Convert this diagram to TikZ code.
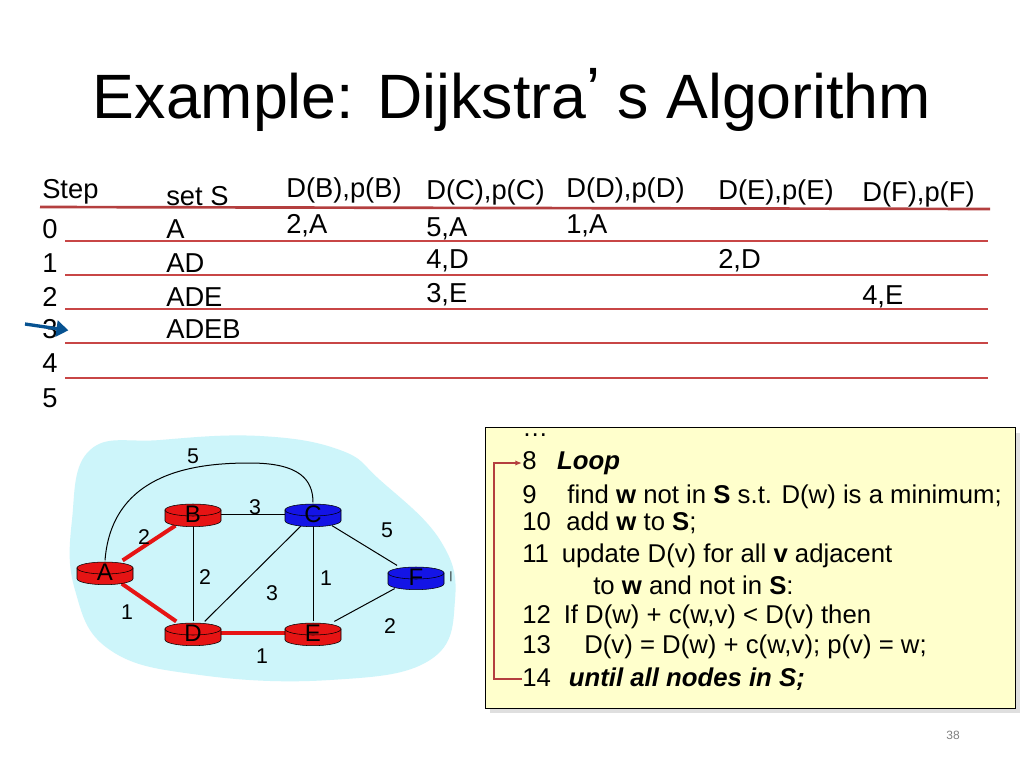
\documentclass[tikz,border=0pt]{standalone}
\usepackage{fontspec}
\setmainfont{Liberation Sans}
\usetikzlibrary{arrows.meta}
\definecolor{rl}{RGB}{200,70,70}
\definecolor{cloud}{RGB}{205,245,250}
\definecolor{code}{RGB}{255,255,204}
\definecolor{rblue}{RGB}{20,20,230}
\definecolor{rred}{RGB}{230,20,20}
\begin{document}
\begin{tikzpicture}[x=0.75pt,y=-0.75pt,
  tt/.style={anchor=west,inner sep=0pt,font=\fontsize{20.5}{22}\selectfont},
  rowline/.style={draw=rl,line width=1.5pt},
  lbl/.style={inner sep=0pt,font=\fontsize{16}{18}\selectfont},
  rt/.style={minimum width=42pt,minimum height=17pt,inner sep=0pt},
  edge/.style={draw=black,line width=0.75pt},
  tree/.style={draw=rred,line width=3pt},
  ct/.style={anchor=west,inner sep=0pt,font=\fontsize{19.3}{21}\selectfont}]
\useasboundingbox (0,0) rectangle (1024,768);
\fill[white] (0,0) rectangle (1024,768);
\node[inner sep=0pt,font=\fontsize{47}{52}\selectfont] (title) at (512,100) {Example: Dijkstra\raisebox{0.2ex}{’} s Algorithm};
% table lines
\draw[rowline,line width=2pt,draw=rl!90!black] (40,207) -- (990,209);
\foreach \y in {241,275,309,343,378} \draw[rowline] (65,\y) -- (988,\y);
% headers
\node[tt] (h0) at (42,192) {Step};
\node[tt] (h1) at (166,196) {set S};
\node[tt] (h2) at (286,190) {D(B),p(B)};
\node[tt] (h3) at (426,192) {D(C),p(C)};
\node[tt] (h4) at (566,190) {D(D),p(D)};
\node[tt] (h5) at (718,192) {D(E),p(E)};
\node[tt] (h6) at (862,194) {D(F),p(F)};
\foreach \i/\y in {0/229,1/263,2/297,3/329,4/363,5/398} \node[tt] (s\i) at (42,\y) {\i};
\node[tt] (a0) at (166,229) {A};
\node[tt] (a1) at (166,263) {AD};
\node[tt] (a2) at (166,297) {ADE};
\node[tt] (a3) at (166,329) {ADEB};
\node[tt] (b0) at (286,226) {2,A};
\node[tt] (c0) at (426,229) {5,A};
\node[tt] (c1) at (426,261) {4,D};
\node[tt] (c2) at (426,295) {3,E};
\node[tt] (d0) at (566,226) {1,A};
\node[tt] (e1) at (718,261) {2,D};
\node[tt] (f2) at (862,297) {4,E};
\coordinate (arrs) at (25,324);
\draw[draw=rblue!50!cyan!60!black,line width=2.5pt,-{Triangle[length=9pt,width=12pt]}] (arrs) -- ([xshift=8pt,yshift=-1pt]s3.east);
% cloud
\fill[cloud] plot[smooth cycle,tension=0.7] coordinates {(90,450) (160,440) (260,436) (340,450) (380,480) (440,540) (455,600) (430,660) (330,680) (200,675) (110,650) (75,590) (72,520)};
% graph
\node[rt] (A) at (105,572) {};
\node[rt] (B) at (193,514) {};
\node[rt] (C) at (313,514) {};
\node[rt] (D) at (193,633) {};
\node[rt] (E) at (313,633) {};
\node[rt] (F) at (416,577) {};
\draw[edge] (A.north) .. controls (112,470) and (200,463) .. (250,463) .. controls (300,463) and (313,480) .. (C.north);
\draw[edge] (B) -- (C);
\draw[edge] (B) -- (D);
\draw[edge] (C) -- (D);
\draw[edge] (C) -- (E);
\draw[edge] (C) -- (F);
\draw[edge] (E) -- (F);
\draw[tree] (A) -- (B);
\draw[tree] (A) -- (D);
\draw[tree] (D) -- (E);
\foreach \n/\c/\l in {A/rred/A,B/rred/B,C/rblue/C,D/rred/D,E/rred/E,F/rblue/F}{
  \fill[\c,draw=black,line width=0.4pt] ([xshift=-21pt,yshift=3pt]\n.center) -- ++(0pt,-8pt) arc[start angle=180,end angle=360,x radius=21pt,y radius=4.5pt] -- ++(0pt,8pt) -- cycle;
  \fill[\c,draw=black,line width=0.4pt] ([yshift=3pt]\n.center) ellipse[x radius=21pt,y radius=4.5pt];
  \node[inner sep=0pt,font=\fontsize{18}{18}\selectfont] at (\n.center) {\l};
}
\node[lbl] (w1) at (193,456) {5};
\node[lbl] (w2) at (255,507) {3};
\node[lbl] (w3) at (144,537) {2};
\node[lbl] (w4) at (205,577) {2};
\node[lbl] (w5) at (272,593) {3};
\node[lbl] (w6) at (326,578) {1};
\node[lbl] (w7) at (387,530) {5};
\node[lbl] (w8) at (127,612) {1};
\node[lbl] (w9) at (390,626) {2};
\node[lbl] (w10) at (262,656) {1};
\node[lbl] (tick) at (451,577) {\fontsize{8}{8}\selectfont|};
% code box
\fill[gray!25] (490,433) rectangle (1020,713);
\node[draw=black,line width=0.6pt,fill=code,minimum width=397.5pt,minimum height=210.75pt,inner sep=0pt] (box) at (750,567.5) {};
\node[ct] (l0) at (522,435) {…};
\node[ct] (l8) at (522,463) {8\hspace{0.8em}\textbf{\textit{Loop}}};
\node[ct] (l9) at (522,497) {9\hspace{1.2em}find \textbf{w} not in \textbf{S} s.t. D(w) is a minimum;};
\node[ct] (l10) at (522,523) {10\hspace{0.6em}add \textbf{w} to \textbf{S};};
\node[ct] (l11) at (522,556) {11\hspace{0.5em}update D(v) for all \textbf{v} adjacent};
\node[ct] (l11b) at (593,585) {to \textbf{w} and not in \textbf{S}:};
\node[ct] (l12) at (522,617) {12\hspace{0.5em}If D(w) + c(w,v) < D(v) then};
\node[ct] (l13) at (522,647) {13\hspace{1.3em}D(v) = D(w) + c(w,v); p(v) = w;};
\node[ct] (l14) at (522,679) {14\hspace{0.7em}\textbf{\textit{until all nodes in S;}}};
\draw[draw=rl!90!black,line width=1.1pt,-{Latex[length=5pt,width=4pt]}] (l14.west) -- (494,679) -- (494,463) -- (l8.west);
\node[inner sep=0pt,text=gray,font=\fontsize{9}{10}\selectfont] (pg) at (953,735) {38};
\end{tikzpicture}
\end{document}
